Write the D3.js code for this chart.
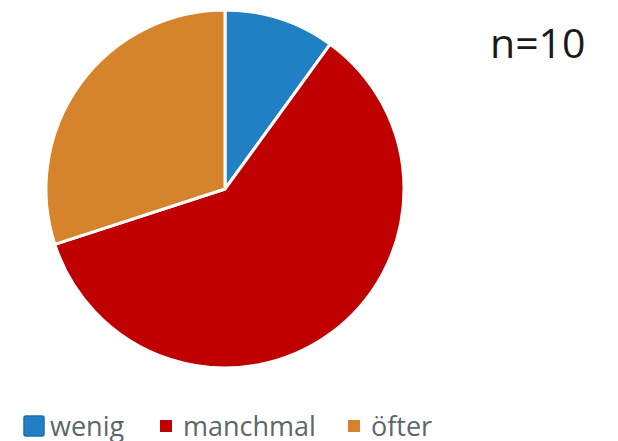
<!DOCTYPE html>
<html><head><meta charset="utf-8">
<script src="https://cdn.jsdelivr.net/npm/d3@7"></script>
<style>body{margin:0;background:#fff}svg{display:block}</style>
</head><body>
<svg id="c" width="618" height="441"></svg>
<script>
const categories = ["wenig", "manchmal", "öfter"];
const values = [1, 6, 3];
const colors = ["#2080c3", "#c00000", "#d5842c"];
const nLabel = "n=10";

const svg = d3.select("#c");
const cx = 225, cy = 189, r = 179;
const pie = d3.pie().sort(null).value(d => d)(values);
const arc = d3.arc().innerRadius(0).outerRadius(r);
svg.append("g").attr("transform", `translate(${cx},${cy})`)
  .selectAll("path").data(pie).join("path")
  .attr("d", arc).attr("fill", (d, i) => colors[i])
  .attr("stroke", "#fff").attr("stroke-width", 3).attr("stroke-linejoin", "round");

svg.append("text").attr("x", 490).attr("y", 58)
  .attr("font-family", "Open Sans, sans-serif").attr("font-size", 41)
  .attr("fill", "#1a1a1a").text(nLabel);

const legX = [24, 160, 348];
const lg = svg.append("g");
categories.forEach((c, i) => {
  const big = i === 0;
  const s = big ? 20 : 12;
  lg.append("rect").attr("x", big ? 24 : legX[i]).attr("y", big ? 416 : 420)
    .attr("width", s).attr("height", s).attr("rx", big ? 2 : 0)
    .attr("fill", colors[i]).attr("stroke", big ? "#1a6fb0" : "none").attr("stroke-width", 1.5);
  lg.append("text").attr("x", big ? 50 : legX[i] + 23).attr("y", 436)
    .attr("font-family", "Open Sans, sans-serif").attr("font-size", 27)
    .attr("fill", "#5d6769").text(c);
});
</script>
</body></html>
